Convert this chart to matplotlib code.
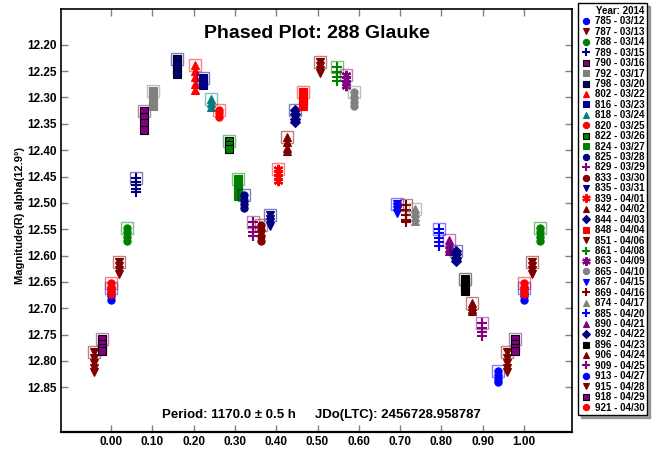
import matplotlib
matplotlib.use("Agg")
import matplotlib.pyplot as plt
from matplotlib.lines import Line2D

plt.rcParams['font.family'] = ['Liberation Sans', 'DejaVu Sans']
plt.rcParams['font.weight'] = 'bold'

# one entry per observing session
sessions = ["785 - 03/12", "787 - 03/13", "788 - 03/14", "789 - 03/15", "790 - 03/16",
            "792 - 03/17", "798 - 03/20", "802 - 03/22", "816 - 03/23", "818 - 03/24",
            "820 - 03/25", "822 - 03/26", "824 - 03/27", "825 - 03/28", "829 - 03/29",
            "833 - 03/30", "835 - 03/31", "839 - 04/01", "842 - 04/02", "844 - 04/03",
            "848 - 04/04", "851 - 04/06", "861 - 04/08", "863 - 04/09", "865 - 04/10",
            "867 - 04/15", "869 - 04/16", "874 - 04/17", "885 - 04/20", "890 - 04/21",
            "892 - 04/22", "896 - 04/23", "906 - 04/24", "909 - 04/25", "913 - 04/27",
            "915 - 04/28", "918 - 04/29", "921 - 04/30"]

phases = [0.000, 0.020, 0.039, 0.061, 0.081, 0.102, 0.161, 0.203, 0.222, 0.241,
          0.262, 0.286, 0.307, 0.321, 0.343, 0.363, 0.385, 0.405, 0.425, 0.446,
          0.464, 0.506, 0.548, 0.568, 0.588, 0.692, 0.714, 0.736, 0.793, 0.819,
          0.835, 0.856, 0.875, 0.899, 0.938, 0.958, 0.978, 0.999]

mags = [
    [12.662, 12.670, 12.677, 12.685],
    [12.612, 12.620, 12.628, 12.636],
    [12.548, 12.556, 12.564, 12.572],
    [12.452, 12.460, 12.467, 12.474, 12.480],
    [12.325, 12.337, 12.349, 12.361],
    [12.288, 12.298, 12.308, 12.317],
    [12.226, 12.236, 12.246, 12.255],
    [12.238, 12.250, 12.262, 12.274, 12.286],
    [12.263, 12.270, 12.277],
    [12.302, 12.310, 12.318],
    [12.323, 12.330, 12.337],
    [12.382, 12.390, 12.398],
    [12.455, 12.466, 12.477, 12.487],
    [12.485, 12.494, 12.503, 12.510],
    [12.537, 12.546, 12.555, 12.562],
    [12.542, 12.552, 12.562, 12.572],
    [12.523, 12.530, 12.537, 12.543],
    [12.435, 12.443, 12.451, 12.458],
    [12.375, 12.385, 12.395, 12.401],
    [12.324, 12.332, 12.340, 12.346],
    [12.290, 12.299, 12.308, 12.316],
    [12.233, 12.240, 12.247, 12.253],
    [12.243, 12.252, 12.261, 12.268],
    [12.258, 12.265, 12.272, 12.279],
    [12.290, 12.299, 12.308, 12.316],
    [12.502, 12.508, 12.514, 12.519],
    [12.505, 12.514, 12.523, 12.532, 12.536],
    [12.511, 12.519, 12.527, 12.535],
    [12.550, 12.558, 12.566, 12.574, 12.581],
    [12.570, 12.578, 12.586, 12.591],
    [12.592, 12.598, 12.604, 12.610],
    [12.644, 12.652, 12.660, 12.667],
    [12.690, 12.696, 12.702, 12.706],
    [12.729, 12.737, 12.745, 12.753],
    [12.820, 12.827, 12.834, 12.841],
    [12.784, 12.794, 12.804, 12.814, 12.821],
    [12.758, 12.767, 12.776, 12.782],
    [12.652, 12.659, 12.666, 12.673],
]

colors = ["#0000ff", "#800000", "#008000", "#000080", "#800080",
          "#808080", "#000080", "#ff0000", "#000080", "#008080",
          "#ff0000", "#008000", "#008000", "#000080", "#800080",
          "#800000", "#000080", "#ff0000", "#800000", "#000080",
          "#ff0000", "#800000", "#008000", "#800080", "#808080",
          "#0000ff", "#800000", "#808080", "#0000ff", "#800080",
          "#000080", "#000000", "#800000", "#800080", "#0000ff",
          "#800000", "#800080", "#ff0000"]

markers = ["o", "v", "o", "+", "s", "s", "s", "^", "s", "^",
           "o", "s", "s", "o", "+", "o", "v", "ast", "^", "D",
           "s", "v", "+", "ast", "o", "v", "+", "^", "+", "^",
           "D", "s", "^", "+", "o", "v", "s", "o"]

black_edge = ["790 - 03/16", "798 - 03/20", "822 - 03/26", "918 - 04/29"]

y_ticks = [12.20, 12.25, 12.30, 12.35, 12.40, 12.45, 12.50, 12.55,
           12.60, 12.65, 12.70, 12.75, 12.80, 12.85]
x_ticks = [0.0, 0.1, 0.2, 0.3, 0.4, 0.5, 0.6, 0.7, 0.8, 0.9, 1.0]


def style(mk, col, name, size):
    kw = dict(linestyle="none", color=col)
    if mk == "+":
        kw.update(marker="+", ms=size + 1.5, mew=1.5)
    elif mk == "ast":
        kw.update(marker=(6, 2, 0), ms=size + 1.5, mew=1.6)
    else:
        edge = "black" if name in black_edge else col
        kw.update(marker=mk, ms=size, mfc=col, mec=edge, mew=0.8)
    return kw


fig = plt.figure(figsize=(6.52, 4.49), dpi=100)
ax = fig.add_axes([61 / 652, 17 / 449, 511 / 652, 423 / 449])

for name, ph, m, col, mk in zip(sessions, phases, mags, colors, markers):
    # phased plot: points near the ends are repeated one cycle over
    shown = [ph]
    if ph > 0.95:
        shown.append(ph - 1)
    if ph < 0.05:
        shown.append(ph + 1)
    for p in shown:
        ax.plot([p] * len(m), m, **style(mk, col, name, 5.2))
        ax.plot([p], [m[0]], linestyle="none", marker="s", ms=8.5, mfc="none",
                mec=col, mew=1.0, alpha=0.5)

ax.set_xlim(-0.121, 1.116)
ax.set_ylim(12.935, 12.132)
ax.set_xticks(x_ticks)
ax.set_yticks(y_ticks)
ax.set_xticklabels(["%.2f" % v for v in x_ticks])
ax.set_yticklabels(["%.2f" % v for v in y_ticks])
ax.tick_params(direction="in", color="#808080", labelsize=8.5, top=True, right=True,
               length=5, width=1, pad=3)
for sp in ax.spines.values():
    sp.set_linewidth(1.2)
ax.spines["bottom"].set_linewidth(1.6)

ax.set_ylabel("Magnitude(R) alpha(12.9°)", fontsize=8, fontweight="bold")
ax.yaxis.set_label_coords(-0.0705, 0.513)

ax.text(0.5, 0.9314, "Phased Plot: 288 Glauke", transform=ax.transAxes,
        ha="center", va="baseline", fontsize=14, fontweight="bold")
ax.text(0.1977, 0.0338, "Period: 1170.0 ± 0.5 h", transform=ax.transAxes,
        ha="left", va="baseline", fontsize=9.5, fontweight="bold")
ax.text(0.497, 0.0338, "JDo(LTC): 2456728.958787", transform=ax.transAxes,
        ha="left", va="baseline", fontsize=9.5, fontweight="bold")

handles = [Line2D([], [], **style(mk, col, name, 4.5))
           for name, col, mk in zip(sessions, colors, markers)]
leg = fig.legend(handles, sessions, loc="upper left",
                 bbox_to_anchor=(578 / 652, 1 - 3 / 449), title="Year: 2014",
                 fontsize=7, title_fontsize=7, frameon=True, fancybox=False,
                 shadow=True, edgecolor="black", labelspacing=0.045,
                 handlelength=1.0, handletextpad=0.4, borderpad=0.3,
                 borderaxespad=0, alignment="right")
leg.get_frame().set_linewidth(1.0)
leg.get_title().set_fontweight("bold")

fig.savefig("out.png", dpi=100)
